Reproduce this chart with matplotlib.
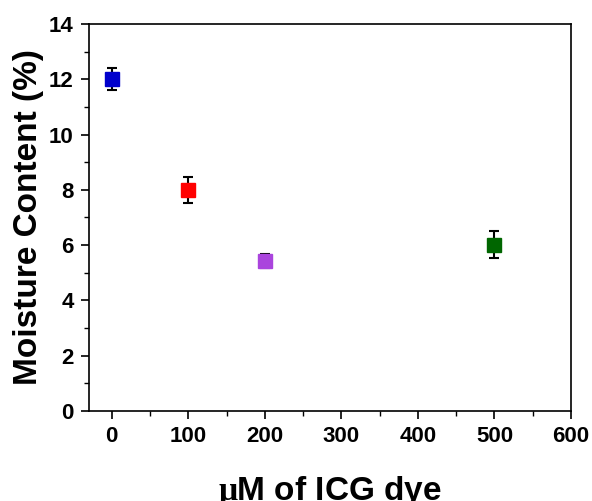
import matplotlib.pyplot as plt
from matplotlib.ticker import MultipleLocator

plt.rcParams['font.family'] = ['Liberation Sans', 'DejaVu Sans']
plt.rcParams['font.weight'] = 'bold'
plt.rcParams['mathtext.fontset'] = 'custom'
plt.rcParams['mathtext.rm'] = 'Liberation Serif'
plt.rcParams['mathtext.it'] = 'Liberation Serif'

# data
conc = [0, 100, 200, 500]
moisture = [12.0, 8.0, 5.42, 6.02]
err = [0.4, 0.48, 0.25, 0.48]
colors = ['#0000CC', '#FF0000', '#AA44DD', '#006600']

fig = plt.figure(figsize=(5.92, 5.01), dpi=100)
ax = fig.add_axes([0.150, 0.180, 0.8145, 0.772])

for x, y, e, c in zip(conc, moisture, err, colors):
    ax.errorbar(x, y, yerr=e, fmt='s', color=c, markersize=10,
                ecolor='black', elinewidth=1.5, capsize=3.3, capthick=1.5, zorder=3)

ax.set_xlim(-30, 600)
ax.set_ylim(0, 14)
ax.xaxis.set_major_locator(MultipleLocator(100))
ax.xaxis.set_minor_locator(MultipleLocator(50))
ax.yaxis.set_major_locator(MultipleLocator(2))
ax.yaxis.set_minor_locator(MultipleLocator(1))
ax.tick_params(which='major', direction='out', length=6, width=1.2, labelsize=16, pad=5)
ax.tick_params(which='minor', direction='out', length=3.5, width=1.0)
for s in ax.spines.values():
    s.set_linewidth(1.2)

ax.set_xlabel(r'$\mathrm{\mu}$M of ICG dye', fontsize=24, fontweight='bold')
ax.set_ylabel('Moisture Content (%)', fontsize=24, fontweight='bold')
ax.xaxis.set_label_coords(0.5, -0.163)
ax.yaxis.set_label_coords(-0.093, 0.5)

fig.savefig('out.png', dpi=100)
